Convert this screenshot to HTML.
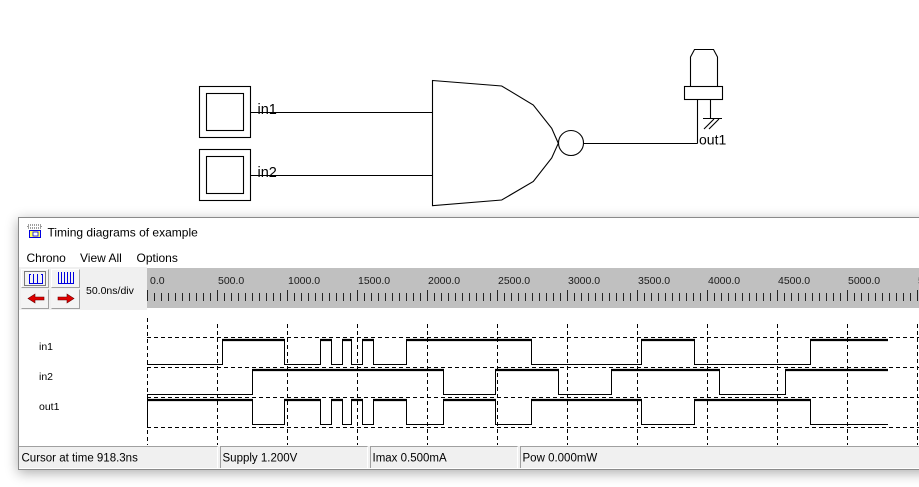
<!DOCTYPE html>
<html><head><meta charset="utf-8"><style>
html,body{margin:0;padding:0;background:#fff;}
body{width:919px;height:487px;position:relative;overflow:hidden;font-family:"Liberation Sans",Arial,sans-serif;}
#win{position:absolute;left:18px;top:217px;width:940px;height:251px;border:1px solid #8a8a8a;background:#fff;box-shadow:0 3px 12px rgba(0,0,0,0.32);}
svg{position:absolute;left:0;top:0;}
</style></head><body>
<div id="win"></div>
<svg width="919" height="487" viewBox="0 0 919 487" xmlns="http://www.w3.org/2000/svg" font-family="Liberation Sans, Arial, sans-serif">
<defs>
<pattern id="minor" x="147" y="0" width="7" height="487" patternUnits="userSpaceOnUse"><rect x="0" y="0" width="1" height="487" fill="#222"/></pattern>
<pattern id="major" x="147" y="0" width="70" height="487" patternUnits="userSpaceOnUse"><rect x="0" y="0" width="1" height="487" fill="#222"/></pattern>
</defs>

<!-- ===== Circuit ===== -->
<g fill="none" stroke="#000" stroke-width="1.1">
<rect x="199.5" y="86.5" width="51" height="51"/>
<rect x="206.5" y="93.5" width="37" height="37"/>
<rect x="199.5" y="149.5" width="51" height="51"/>
<rect x="206.5" y="156.5" width="37" height="37"/>
<line x1="251" y1="112.5" x2="432.5" y2="112.5"/>
<line x1="251" y1="175.5" x2="432.5" y2="175.5"/>
<polygon points="432.5,80.5 501.7,86 533.3,105 551.7,128.3 558.3,143.3 551.7,158 533.3,181.5 501.7,200 432.5,205.7"/>
<circle cx="571" cy="143" r="12.5"/>
<line x1="583.5" y1="143.5" x2="697.5" y2="143.5"/>
<line x1="697.5" y1="99" x2="697.5" y2="143.5"/>
<path d="M690.5,86 L690.5,57 L694.5,49.5 L713.5,49.5 L717.5,57 L717.5,86"/>
<rect x="684.5" y="86.5" width="38" height="13"/>
<line x1="710.5" y1="99.5" x2="710.5" y2="118.5"/>
<line x1="703" y1="118.5" x2="722" y2="118.5"/>
<line x1="704" y1="129" x2="714" y2="119"/>
<line x1="709" y1="129" x2="719" y2="119"/>
</g>
<text x="257.5" y="114" font-size="14.5" fill="#000">in1</text>
<text x="257.5" y="177" font-size="14.5" fill="#000">in2</text>
<text x="699" y="144.5" font-size="14" fill="#000">out1</text>

<!-- ===== Window chrome ===== -->
<!-- title icon -->
<g>
<rect x="28" y="225" width="13" height="3" fill="none" stroke="#000" stroke-width="0.8" stroke-dasharray="1,1"/>
<rect x="29.5" y="230.5" width="11" height="7" fill="#ffff60" stroke="#0000e0" stroke-width="1"/>
<rect x="33" y="232" width="5" height="4" fill="#fff" stroke="#0000e0" stroke-width="0.8"/>
</g>
<text x="47.5" y="236.5" font-size="12" fill="#000">Timing diagrams of example</text>
<text x="26.5" y="262" font-size="12" fill="#000">Chrono</text>
<text x="80" y="262" font-size="12" fill="#000">View All</text>
<text x="136.5" y="262" font-size="12" fill="#000">Options</text>

<!-- toolbar -->
<rect x="19" y="267" width="128" height="43" fill="#f0f0f0"/>
<rect x="147" y="268" width="772" height="40" fill="#c0c0c0"/>
<rect x="147" y="293" width="772" height="8" fill="url(#minor)"/>
<rect x="147" y="290" width="772" height="11" fill="url(#major)"/>
<g font-size="10.5" fill="#1a1a1a">
<text x="150" y="284">0.0</text>
<text x="218" y="284">500.0</text>
<text x="288" y="284">1000.0</text>
<text x="358" y="284">1500.0</text>
<text x="428" y="284">2000.0</text>
<text x="498" y="284">2500.0</text>
<text x="568" y="284">3000.0</text>
<text x="638" y="284">3500.0</text>
<text x="708" y="284">4000.0</text>
<text x="778" y="284">4500.0</text>
<text x="848" y="284">5000.0</text>
<text x="918" y="284">5500.0</text>
</g>
<!-- buttons -->
<g>
<rect x="21" y="269" width="28" height="19" fill="#f4f4f4"/>
<path d="M21.5,287.5 V269.5 H48.5" fill="none" stroke="#fff"/>
<path d="M21.5,287.5 H48.5 V269.5" fill="none" stroke="#a0a0a0"/>
<rect x="51" y="269" width="29" height="19" fill="#f4f4f4"/>
<path d="M51.5,287.5 V269.5 H79.5" fill="none" stroke="#fff"/>
<path d="M51.5,287.5 H79.5 V269.5" fill="none" stroke="#a0a0a0"/>
<rect x="21" y="289" width="28" height="20" fill="#f4f4f4"/>
<path d="M21.5,308.5 H48.5 V289.5" fill="none" stroke="#a0a0a0"/>
<rect x="51" y="289" width="29" height="20" fill="#f4f4f4"/>
<path d="M51.5,308.5 H79.5 V289.5" fill="none" stroke="#a0a0a0"/>
<rect x="24.5" y="271.5" width="21" height="14" fill="none" stroke="#000" stroke-width="1" stroke-dasharray="1,1"/>
<g stroke="#0000e0" stroke-width="1" fill="none">
<path d="M29.5,274 V283.5 H42.5 V274 M33.5,274 V283.5 M37.5,274 V283.5 M29.5,274.5 H31 M41,274.5 H42.5"/>
<path d="M58.5,272 V283.5 H73.5 V272 M61.5,272 V283.5 M64.5,272 V283.5 M67.5,272 V283.5 M70.5,272 V283.5"/>
</g>
<polygon points="28,298.5 35,294 35,297 44,297 44,300 35,300 35,303" fill="#e00000" stroke="#600" stroke-width="0.6"/>
<polygon points="74,298.5 67,294 67,297 58,297 58,300 67,300 67,303" fill="#e00000" stroke="#600" stroke-width="0.6"/>
</g>
<text x="86" y="294" font-size="10.5" fill="#000">50.0ns/div</text>

<!-- grid -->
<g stroke="#000" stroke-width="1" stroke-dasharray="4,3" fill="none">
<line x1="147.5" y1="318" x2="147.5" y2="445"/>
<line x1="217.5" y1="324" x2="217.5" y2="445"/>
<line x1="287.5" y1="324" x2="287.5" y2="445"/>
<line x1="357.5" y1="324" x2="357.5" y2="445"/>
<line x1="427.5" y1="324" x2="427.5" y2="445"/>
<line x1="497.5" y1="324" x2="497.5" y2="445"/>
<line x1="567.5" y1="324" x2="567.5" y2="445"/>
<line x1="637.5" y1="324" x2="637.5" y2="445"/>
<line x1="707.5" y1="324" x2="707.5" y2="445"/>
<line x1="777.5" y1="324" x2="777.5" y2="445"/>
<line x1="847.5" y1="324" x2="847.5" y2="445"/>
<line x1="917.5" y1="324" x2="917.5" y2="445"/>
<line x1="147" y1="337.5" x2="919" y2="337.5"/>
<line x1="147" y1="367.5" x2="919" y2="367.5"/>
<line x1="147" y1="397.5" x2="919" y2="397.5"/>
<line x1="147" y1="427.5" x2="919" y2="427.5"/>
</g>

<!-- signals -->
<g fill="none" stroke="#000" stroke-width="1">
<polyline points="147,364.5 222.5,364.5 222.5,340 284.5,340 284.5,364.5 320.5,364.5 320.5,340 331.5,340 331.5,364.5 342.5,364.5 342.5,340 351.5,340 351.5,364.5 362.5,364.5 362.5,340 373.5,340 373.5,364.5 406.5,364.5 406.5,340 531.5,340 531.5,364.5 641.5,364.5 641.5,340 694.5,340 694.5,364.5 810.5,364.5 810.5,340 888,340"/>
<polyline points="147,394.5 252.5,394.5 252.5,370 443.5,370 443.5,394.5 495.5,394.5 495.5,370 558.5,370 558.5,394.5 611.5,394.5 611.5,370 719.5,370 719.5,394.5 785.5,394.5 785.5,370 888,370"/>
<polyline points="147.5,424.5 147.5,400 252.5,400 252.5,424.5 284.5,424.5 284.5,400 320.5,400 320.5,424.5 331.5,424.5 331.5,400 342.5,400 342.5,424.5 351.5,424.5 351.5,400 362.5,400 362.5,424.5 373.5,424.5 373.5,400 406.5,400 406.5,424.5 443.5,424.5 443.5,400 495.5,400 495.5,424.5 531.5,424.5 531.5,400 641.5,400 641.5,424.5 694.5,424.5 694.5,400 810.5,400 810.5,424.5 888,424.5"/>
</g>
<g fill="none" stroke="#000" stroke-width="2.2">
<path d="M222 340H285M320 340H332M342 340H352M362 340H374M406 340H532M641 340H695M810 340H888"/>
<path d="M252 370H444M495 370H559M611 370H720M785 370H888"/>
<path d="M147 400H253M284 400H321M331 400H343M351 400H363M373 400H407M443 400H496M531 400H642M694 400H811"/>
</g>
<g font-size="10.5" fill="#000">
<text x="39" y="350">in1</text>
<text x="39" y="380">in2</text>
<text x="39" y="410">out1</text>
</g>

<!-- status bar -->
<rect x="19" y="446" width="900" height="22" fill="#f0f0f0"/>
<g stroke="#a0a0a0" stroke-width="1" fill="none">
<path d="M19,446.5 H217.5 M220.5,468 V446.5 H367.5 M370.5,468 V446.5 H517.5 M520.5,468 V446.5 H919"/>
</g>
<g stroke="#ffffff" stroke-width="1" fill="none">
<path d="M217.5,447 V468 M367.5,447 V468 M517.5,447 V468"/>
</g>
<g font-size="11.5" fill="#000">
<text x="21.5" y="461.5">Cursor at time 918.3ns</text>
<text x="222.5" y="461.5">Supply 1.200V</text>
<text x="372.5" y="461.5">Imax 0.500mA</text>
<text x="522.5" y="461.5">Pow 0.000mW</text>
</g>
</svg>
</body></html>
